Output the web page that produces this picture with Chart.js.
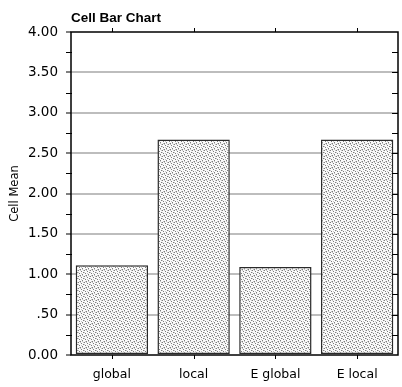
<!DOCTYPE html>
<html>
<head>
<meta charset="utf-8">
<script src="https://cdn.jsdelivr.net/npm/chart.js@4.4.0/dist/chart.umd.min.js"></script>
<style>
  html, body { margin: 0; padding: 0; background: #fff; }
  #wrap { width: 402px; height: 387px; }
</style>
</head>
<body>
<div id="wrap"><canvas id="cellChart" width="402" height="387"></canvas></div>
<script>
const categories = ['global', 'local', 'E global', 'E local'];
const cellMeans = [1.11, 2.67, 1.09, 2.67];
const yTickLabels = { 0: '0.00', 0.5: '.50', 1: '1.00', 1.5: '1.50', 2: '2.00', 2.5: '2.50', 3: '3.00', 3.5: '3.50', 4: '4.00' };

// stipple fill like the old stat package
function makeStipple() {
    const c = document.createElement('canvas');
    c.width = 6; c.height = 6;
    const g = c.getContext('2d');
    g.fillStyle = '#fafafa';
    g.fillRect(0, 0, 6, 6);
    const dark = [[0,0],[3,1],[1,3],[4,4],[2,5],[5,2]];
    const mid = [[2,0],[5,0],[0,2],[3,3],[1,5],[4,5]];
    g.fillStyle = '#7c7c7c';
    dark.forEach(p => g.fillRect(p[0], p[1], 1, 1));
    g.fillStyle = '#c4c4c4';
    mid.forEach(p => g.fillRect(p[0], p[1], 1, 1));
    return g.createPattern(c, 'repeat');
}

const frame = {
    id: 'frame',
    afterDatasetsDraw(chart) {
        const { ctx, chartArea: a, scales } = chart;
        ctx.save();
        ctx.strokeStyle = '#000';
        ctx.lineWidth = 1.5;
        ctx.strokeRect(a.left, a.top, a.right - a.left, a.bottom - a.top);
        ctx.lineWidth = 1;
        ctx.beginPath();
        // minor/major ticks on both y sides
        for (let v = 0.25; v < 4; v += 0.25) {
            const y = Math.round(scales.y.getPixelForValue(v)) + 0.5;
            if (v % 0.5 !== 0) {
                ctx.moveTo(a.left - 5, y); ctx.lineTo(a.left + 1, y);
            }
            ctx.moveTo(a.right - 6, y); ctx.lineTo(a.right, y);
        }
        // category ticks top and bottom
        categories.forEach((c, i) => {
            const x = Math.round(scales.x.getPixelForValue(i)) + 0.5;
            ctx.moveTo(x, a.top - 4); ctx.lineTo(x, a.top);
            ctx.moveTo(x, a.bottom); ctx.lineTo(x, a.bottom + 4);
        });
        ctx.stroke();
        ctx.restore();
    }
};

const ctx = document.getElementById('cellChart').getContext('2d');
new Chart(ctx, {
    type: 'bar',
    data: {
        labels: categories,
        datasets: [{
            data: cellMeans,
            backgroundColor: makeStipple(),
            borderColor: '#2a2a2a',
            borderWidth: 1.5,
            borderSkipped: false,
            barPercentage: 0.885,
            categoryPercentage: 1
        }]
    },
    options: {
        responsive: false,
        animation: false,
        layout: { padding: { left: 8, right: 4 } },
        plugins: {
            legend: { display: false },
            tooltip: { enabled: false },
            title: {
                display: true,
                text: 'Cell Bar Chart',
                align: 'start',
                fullSize: false,
                color: '#000',
                font: { family: 'Liberation Sans', size: 13.5, weight: 'bold' },
                padding: { top: 10, bottom: 5.8 }
            }
        },
        scales: {
            x: {
                grid: { display: false, drawTicks: false },
                border: { display: false },
                ticks: { color: '#000', font: { family: 'DejaVu Sans', size: 12.5 }, padding: 12 },
                afterFit: s => { s.height = 32; }
            },
            y: {
                min: 0,
                max: 4,
                grid: {
                    color: c => (c.tick && (c.tick.value === 0 || c.tick.value === 4)) ? 'rgba(0,0,0,0)' : '#bdbdbd',
                    lineWidth: 2,
                    tickColor: '#000',
                    tickLength: 5,
                    tickWidth: 1
                },
                border: { display: false },
                ticks: {
                    stepSize: 0.5,
                    color: '#000',
                    padding: 8,
                    font: { family: 'DejaVu Sans', size: 13.5 },
                    callback: v => yTickLabels[v]
                },
                title: {
                    display: true,
                    text: 'Cell Mean',
                    color: '#000',
                    font: { family: 'DejaVu Sans', size: 11.5 },
                    padding: 0
                },
                afterFit: s => { s.width = 63; }
            }
        }
    },
    plugins: [frame]
});
</script>
</body>
</html>
